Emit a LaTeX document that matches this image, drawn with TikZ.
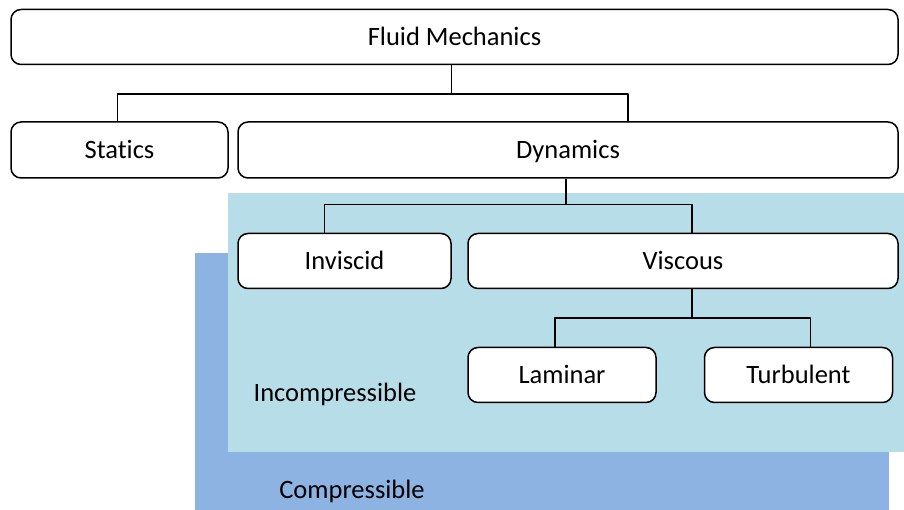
\documentclass[tikz,border=0pt]{standalone}
\usepackage{fontspec}
\setmainfont{Carlito}[Ligatures=NoCommon]
\usetikzlibrary{positioning,calc}
\definecolor{incomp}{RGB}{183,221,232}
\definecolor{comp}{RGB}{141,179,226}

\begin{document}
\begin{tikzpicture}[x=1pt,y=1pt,line join=bevel,
  box/.style={draw,line width=1.5pt,fill=white,rounded corners=10pt,inner sep=0pt,minimum height=55pt,text height=20pt,text depth=3pt,font=\fontsize{26.5}{30}\selectfont},
  region/.style={font=\fontsize{26.5}{30}\selectfont}]
\useasboundingbox (0,0) rectangle (904,510);
% shaded regions
\fill[comp] (195,0) rectangle (889,257);
\fill[incomp] (228,58) rectangle (904,317);
\node[region] at (352,19) (comp) {Compressible};
\node[region] at (335,116) (incomp) {Incompressible};
% boxes
\node[box,minimum width=887pt] at (454.5,473) (fm) {Fluid Mechanics};
\node[box,minimum width=217pt,minimum height=56pt] at (119.5,360) (st) {Statics};
\node[box,minimum width=660pt,minimum height=56pt] at (568,360) (dyn) {Dynamics};
\node[box,minimum width=213pt] at (344.5,249) (inv) {Inviscid};
\node[box,minimum width=430pt] at (683,249) (visc) {Viscous};
\node[box,minimum width=188pt] at (562,135) (lam) {Laminar};
\node[box,minimum width=188pt,right=47pt of lam] (turb) {Turbulent};
% connectors
\draw[line width=1.5pt] ([xshift=-3pt]fm.south) -- ++(0,-29) coordinate (j1);
\draw[line width=1.5pt] ([xshift=-2pt]st.north) |- (j1) -| ([xshift=60pt]dyn.north);
\draw[line width=1.5pt] ([xshift=-2pt]dyn.south) -- ++(0,-26) coordinate (j2);
\draw[line width=1.5pt] ([xshift=-20pt]inv.north) |- (j2) -| ([xshift=9pt]visc.north);
\draw[line width=1.5pt] ([xshift=9pt]visc.south) -- ++(0,-29) coordinate (j3);
\draw[line width=1.5pt] ([xshift=-7pt]lam.north) |- (j3) -| ([xshift=12pt]turb.north);

\end{tikzpicture}
\end{document}
